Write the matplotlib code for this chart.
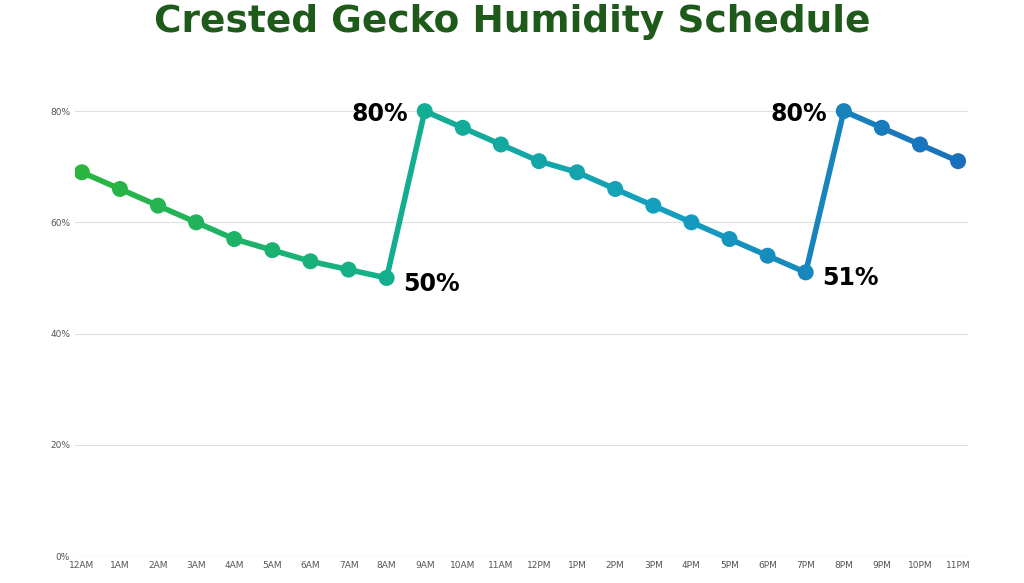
import matplotlib
matplotlib.use("Agg")
import matplotlib.pyplot as plt
import numpy as np
from matplotlib.collections import LineCollection
from matplotlib.colors import LinearSegmentedColormap

hours = ["12AM","1AM","2AM","3AM","4AM","5AM","6AM","7AM","8AM","9AM","10AM","11AM",
         "12PM","1PM","2PM","3PM","4PM","5PM","6PM","7PM","8PM","9PM","10PM","11PM"]
humidity = [69,66,63,60,57,55,53,51.5,50,80,77,74,71,69,66,63,60,57,54,51,80,77,74,71]
y_ticks = [0,20,40,60,80]

fig = plt.figure(figsize=(10.24,5.83), dpi=100)
ax = fig.add_axes([75/1024, 1-556/583, (968-75)/1024, (556-100)/583])
x = np.arange(len(hours))
y = np.array(humidity)
cmap = LinearSegmentedColormap.from_list("g", ["#2ab53f", "#13b08a", "#139fbf", "#1a6fba"])
cols = [cmap(i/(len(x)-1)) for i in range(len(x))]
segs = [[(x[i], y[i]), (x[i+1], y[i+1])] for i in range(len(x)-1)]
lc = LineCollection(segs, colors=[cmap((i+0.5)/(len(x)-1)) for i in range(len(x)-1)], linewidths=4, zorder=3, capstyle='round')
ax.add_collection(lc)
ax.scatter(x, y, s=110, c=cols, zorder=4)

ax.set_xlim(-0.18, 23.26)
ax.set_ylim(0, 82)
ax.set_yticks(y_ticks)
ax.set_yticklabels([f"{v}%" for v in y_ticks])
ax.set_xticks(x)
ax.set_xticklabels(hours)
ax.tick_params(length=0, labelsize=6.5, labelcolor="#555555")
ax.grid(axis="y", color="#e0e0e0", lw=0.8)
for s in ax.spines.values():
    s.set_visible(False)
ax.axhline(0, color="#cccccc", lw=0.8)

for i in [8, 19]:
    ax.annotate(f"{humidity[i]:g}%", (x[i], y[i]), xytext=(12, -4), textcoords="offset points",
                ha="left", va="center", fontsize=17, fontweight="bold")
for i in [9, 20]:
    ax.annotate(f"{humidity[i]:g}%", (x[i], y[i]), xytext=(-12, -2), textcoords="offset points",
                ha="right", va="center", fontsize=17, fontweight="bold")

fig.text(0.5, 1-22/583, "Crested Gecko Humidity Schedule", ha="center", va="center",
         fontsize=27, fontweight="heavy", color="#1e5a1a")
fig.savefig("out.png", dpi=100, facecolor="white")
